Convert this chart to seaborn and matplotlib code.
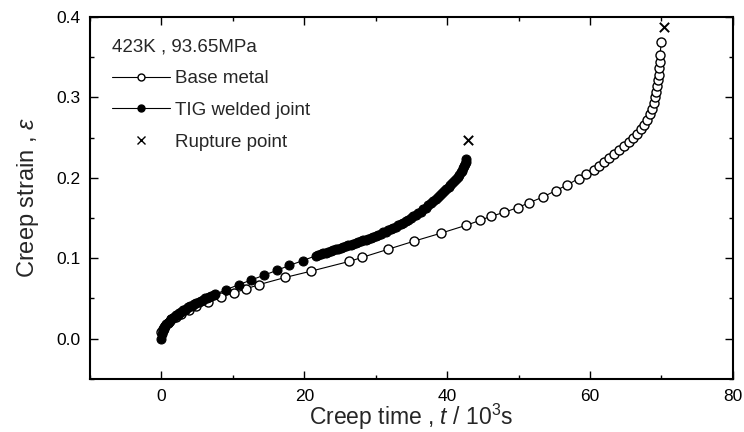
import matplotlib
matplotlib.use("Agg")
import matplotlib.pyplot as plt
import seaborn as sns
import pandas as pd
from matplotlib.lines import Line2D
from matplotlib.ticker import MultipleLocator

base_t = [0.0, 0.2, 0.5, 0.9, 1.4, 2.0, 2.8, 3.8, 4.9, 6.5, 8.4, 10.2, 11.9, 13.6,
          17.3, 21.0, 26.3, 28.1, 31.7, 35.3, 39.1, 42.7, 44.6, 46.1, 48.0, 49.9,
          51.5, 53.4, 55.2, 56.8, 58.4, 59.5, 60.5, 61.3, 61.9, 62.6, 63.3, 64.0,
          64.7, 65.4, 66.0, 66.6, 67.1, 67.6, 68.0, 68.4, 68.7, 68.9, 69.1, 69.3,
          69.4, 69.5, 69.6, 69.7, 69.75, 69.8, 70.0]
base_e = [0.008, 0.012, 0.016, 0.020, 0.024, 0.027, 0.031, 0.036, 0.040, 0.046, 0.052,
          0.057, 0.062, 0.067, 0.076, 0.084, 0.096, 0.101, 0.111, 0.121, 0.131, 0.141,
          0.147, 0.152, 0.157, 0.163, 0.169, 0.176, 0.184, 0.191, 0.199, 0.205, 0.210,
          0.214, 0.219, 0.225, 0.230, 0.235, 0.239, 0.244, 0.249, 0.254, 0.260, 0.266,
          0.272, 0.279, 0.286, 0.293, 0.300, 0.307, 0.314, 0.321, 0.328, 0.336, 0.344,
          0.353, 0.369]

# TIG welded joint: early dense part, sparse middle part, late dense part
tig_t_a = [0.0, 0.1, 0.2, 0.3, 0.4, 0.55, 0.7, 0.85, 1.0, 1.2,
           1.4, 1.6, 1.8, 2.0, 2.25, 2.5, 2.75, 3.0, 3.25, 3.5,
           3.75, 4.0, 4.3, 4.6, 4.9, 5.2, 5.5, 5.8, 6.1, 6.4,
           6.7, 7.0, 7.3, 7.5]
tig_e_a = [0.000, 0.006, 0.010, 0.012, 0.014, 0.016, 0.018, 0.019, 0.021, 0.022,
           0.024, 0.026, 0.027, 0.029, 0.030, 0.032, 0.033, 0.035, 0.036, 0.037,
           0.039, 0.040, 0.041, 0.043, 0.044, 0.046, 0.047, 0.048, 0.050, 0.051,
           0.052, 0.053, 0.054, 0.055]
tig_t_b = [9.1, 10.8, 12.6, 14.4, 16.2, 17.9, 19.8]
tig_e_b = [0.061, 0.067, 0.073, 0.079, 0.085, 0.091, 0.097]
tig_t_c = [21.6, 21.95, 22.3, 22.65, 23.0, 23.35, 23.7, 24.05, 24.4, 24.75,
           25.1, 25.45, 25.8, 26.15, 26.5, 26.85, 27.2, 27.55, 27.9, 28.25,
           28.6, 28.95, 29.3, 29.65, 30.0, 30.35, 30.7, 31.05, 31.4, 31.75,
           32.1, 32.45, 32.8, 33.15, 33.5, 33.85, 34.2, 34.55, 34.9, 35.25,
           35.6, 35.95, 36.3, 36.65, 37.0, 37.35, 37.7, 38.05, 38.4, 38.7,
           39.0, 39.3, 39.6, 39.9, 40.2, 40.45, 40.7, 40.95, 41.2, 41.45,
           41.7, 41.9, 42.1, 42.25, 42.4, 42.5, 42.6, 42.7]
tig_e_c = [0.103, 0.104, 0.105, 0.106, 0.107, 0.108, 0.109, 0.110, 0.111, 0.112,
           0.113, 0.114, 0.115, 0.116, 0.117, 0.118, 0.119, 0.120, 0.121, 0.122,
           0.123, 0.124, 0.125, 0.126, 0.128, 0.129, 0.130, 0.132, 0.133, 0.135,
           0.136, 0.138, 0.139, 0.141, 0.142, 0.144, 0.146, 0.148, 0.150, 0.152,
           0.154, 0.156, 0.158, 0.161, 0.163, 0.166, 0.168, 0.171, 0.173, 0.176,
           0.178, 0.181, 0.183, 0.186, 0.189, 0.191, 0.194, 0.196, 0.199, 0.201,
           0.204, 0.207, 0.209, 0.212, 0.214, 0.217, 0.219, 0.223]

rupture_t = [42.9, 70.3]
rupture_e = [0.247, 0.388]

legend_title = "423K , 93.65MPa"
legend_labels = ["Base metal", "TIG welded joint", "Rupture point"]

sns.set_style("ticks")
plt.rcParams['font.family'] = ['Liberation Sans', 'DejaVu Sans']
plt.rcParams['mathtext.fontset'] = 'custom'
plt.rcParams['mathtext.it'] = 'Liberation Sans:italic'
plt.rcParams['mathtext.rm'] = 'Liberation Sans'

fig = plt.figure(figsize=(7.44, 4.32), dpi=100)
ax = fig.add_axes([0.121, 0.123, 0.864, 0.838])

df_b = pd.DataFrame({"t": base_t, "e": base_e})
df_w = pd.DataFrame({"t": tig_t_a + tig_t_b + tig_t_c,
                     "e": tig_e_a + tig_e_b + tig_e_c})
df_r = pd.DataFrame({"t": rupture_t, "e": rupture_e})

sns.lineplot(data=df_b, x="t", y="e", ax=ax, sort=False, estimator=None,
             color="black", lw=0.8, marker="o", markersize=6.5,
             markerfacecolor="white", markeredgecolor="black", markeredgewidth=1.0)
sns.lineplot(data=df_w, x="t", y="e", ax=ax, sort=False, estimator=None,
             color="black", lw=0.8, marker="o", markersize=6.5,
             markerfacecolor="black", markeredgecolor="black")
sns.scatterplot(data=df_r, x="t", y="e", ax=ax, marker="x", s=45,
                color="black", linewidth=1.4)

ax.set_xlim(-10, 80)
ax.set_ylim(-0.05, 0.4)
ax.xaxis.set_major_locator(MultipleLocator(20))
ax.xaxis.set_minor_locator(MultipleLocator(10))
ax.yaxis.set_minor_locator(MultipleLocator(0.05))
ax.set_yticks([0.0, 0.1, 0.2, 0.3, 0.4])
ax.set_yticklabels(["0.0", "0.1", "0.2", "0.3", "0.4"])
ax.tick_params(which="both", direction="in", top=True, right=True,
               labelsize=12.5, width=1.0, colors="black")
ax.tick_params(which="major", length=6, pad=7)
ax.tick_params(which="minor", length=3)
for sp in ax.spines.values():
    sp.set_visible(True)
    sp.set_linewidth(1.5)
    sp.set_color("black")

ax.set_xlabel("Creep time , $t$ / 10$^3$s", fontsize=16.5, labelpad=-1)
ax.set_ylabel("Creep strain , $\\varepsilon$", fontsize=17, labelpad=11)

handles = [
    Line2D([], [], color="black", lw=0.8, marker="o", markersize=5,
           markerfacecolor="white", markeredgecolor="black"),
    Line2D([], [], color="black", lw=0.8, marker="o", markersize=5,
           markerfacecolor="black", markeredgecolor="black"),
    Line2D([], [], color="black", lw=0, marker="x", markersize=6),
]
leg = ax.legend(handles, legend_labels, title=legend_title, loc="upper left",
                frameon=False, fontsize=13.5, title_fontsize=13.5,
                handlelength=3.1, handletextpad=0.27, labelspacing=0.78,
                borderaxespad=0.75, borderpad=0.4, alignment="left")

fig.savefig("out.png", dpi=100)
